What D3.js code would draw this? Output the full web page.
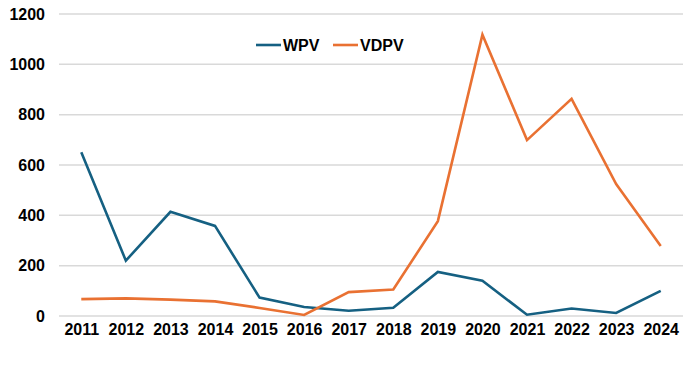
<!DOCTYPE html>
<html>
<head>
<meta charset="utf-8">
<script src="https://cdn.jsdelivr.net/npm/d3@7"></script>
<style>
  body { margin: 0; background: #fff; }
  text { font-family: "Liberation Sans", Arial, sans-serif; font-weight: bold; }
</style>
</head>
<body>
<script>
// Chart data
const years = ["2011", "2012", "2013", "2014", "2015", "2016", "2017", "2018", "2019", "2020", "2021", "2022", "2023", "2024"];
const wpv = [651, 220, 414, 358, 73, 36, 21, 33, 175, 140, 5, 30, 12, 100];
const vdpv = [67, 70, 65, 58, 32, 4, 95, 105, 377, 1118, 699, 863, 524, 278];
const yTicks = [0, 200, 400, 600, 800, 1000, 1200];
const seriesNames = ["WPV", "VDPV"];
const seriesColors = ["#156082", "#E97132"];

const svgWidth = 698;
const svgHeight = 382;

const chartMargin = { top: 14, right: 15, bottom: 66, left: 59 };
const chartWidth = svgWidth - chartMargin.left - chartMargin.right;
const chartHeight = svgHeight - chartMargin.top - chartMargin.bottom;

const svg = d3.select("body")
  .append("svg")
  .attr("width", svgWidth)
  .attr("height", svgHeight);

const chartGroup = svg.append("g")
  .attr("transform", `translate(${chartMargin.left}, ${chartMargin.top})`);

const x = d3.scalePoint()
  .domain(years)
  .range([0, chartWidth])
  .padding(0.5);

const y = d3.scaleLinear()
  .domain([0, 1200])
  .range([chartHeight, 0]);

// gridlines
chartGroup.selectAll(".grid")
  .data(yTicks)
  .enter()
  .append("line")
  .attr("x1", 0)
  .attr("x2", chartWidth)
  .attr("y1", d => y(d))
  .attr("y2", d => y(d))
  .attr("stroke", "#d9d9d9")
  .attr("stroke-width", 1.5);

// y axis labels
const yAxis = d3.axisLeft(y).tickValues(yTicks).tickFormat(d3.format("d")).tickSize(0).tickPadding(14);
chartGroup.append("g")
  .call(yAxis)
  .call(g => g.select(".domain").remove())
  .selectAll("text")
  .attr("font-size", 16)
  .attr("fill", "#000")
  .style("font-family", "'Liberation Sans', Arial, sans-serif")
  .style("font-weight", "bold");

// x axis labels
const xAxis = d3.axisBottom(x).tickSize(0).tickPadding(8);
chartGroup.append("g")
  .attr("transform", `translate(0, ${chartHeight})`)
  .call(xAxis)
  .call(g => g.select(".domain").remove())
  .selectAll("text")
  .attr("font-size", 16)
  .attr("fill", "#000")
  .style("font-family", "'Liberation Sans', Arial, sans-serif")
  .style("font-weight", "bold");

// lines
const line = d3.line()
  .x((d, i) => x(years[i]))
  .y(d => y(d));

[wpv, vdpv].forEach((series, i) => {
  chartGroup.append("path")
    .datum(series)
    .attr("fill", "none")
    .attr("stroke", seriesColors[i])
    .attr("stroke-width", 2.6)
    .attr("stroke-linejoin", "miter")
    .attr("d", line);
});

// legend
const legendX = [256, 333];
const legend = svg.append("g");
seriesNames.forEach((name, i) => {
  legend.append("line")
    .attr("x1", legendX[i])
    .attr("x2", legendX[i] + 25)
    .attr("y1", 45)
    .attr("y2", 45)
    .attr("stroke", seriesColors[i])
    .attr("stroke-width", 2.6);
  legend.append("text")
    .attr("x", legendX[i] + 27)
    .attr("y", 51)
    .attr("font-size", 16)
    .attr("fill", "#000")
    .text(name);
});
</script>
</body>
</html>
